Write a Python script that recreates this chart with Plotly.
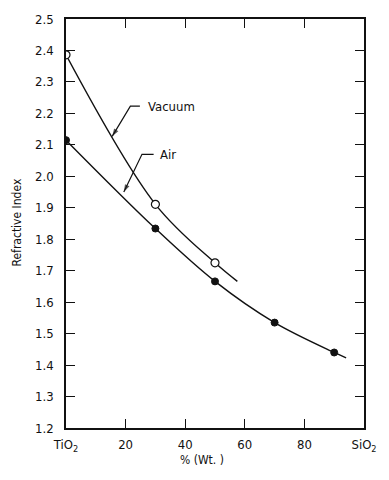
import plotly.graph_objects as go

# Composition (% by weight of SiO2; 0 = pure TiO2, 100 = pure SiO2)
vacuum_x = [0, 30, 50]
vacuum_n = [2.386, 1.911, 1.725]
air_x = [0, 30, 50, 70, 90]
air_n = [2.115, 1.834, 1.666, 1.535, 1.440]

# Smooth fitted curves drawn through the measurements (with their end points)
vacuum_curve_x = [0, 30, 50, 57.5]
vacuum_curve_n = [2.386, 1.911, 1.725, 1.666]
air_curve_x = [0, 30, 50, 70, 90, 94]
air_curve_n = [2.115, 1.834, 1.666, 1.535, 1.440, 1.423]

x_ticks = [0, 20, 40, 60, 80, 100]
x_tick_text = ["TiO<sub>2</sub>", "20", "40", "60", "80", "SiO<sub>2</sub>"]

FONT = "DejaVu Sans Condensed, DejaVu Sans, sans-serif"
INK = "#111111"

fig = go.Figure()

fig.add_trace(go.Scatter(x=vacuum_curve_x, y=vacuum_curve_n, mode="lines",
                         line=dict(color=INK, width=1.4, shape="spline", smoothing=1.0),
                         hoverinfo="skip", showlegend=False))
fig.add_trace(go.Scatter(x=air_curve_x, y=air_curve_n, mode="lines",
                         line=dict(color=INK, width=1.4, shape="spline", smoothing=1.0),
                         hoverinfo="skip", showlegend=False))
fig.add_trace(go.Scatter(x=vacuum_x, y=vacuum_n, mode="markers", name="Vacuum",
                         marker=dict(symbol="circle", size=8, color="white",
                                     line=dict(color=INK, width=1.2)),
                         showlegend=False))
fig.add_trace(go.Scatter(x=air_x, y=air_n, mode="markers", name="Air",
                         marker=dict(symbol="circle", size=7, color=INK,
                                     line=dict(color=INK, width=1)),
                         showlegend=False))

# Bent leader lines with arrowheads pointing at each curve
leaders = [
    ([24.8, 21.6, 15.5], [2.223, 2.223, 2.127]),
    ([29.4, 25.5, 19.4], [2.070, 2.070, 1.950]),
]
for lx, ly in leaders:
    fig.add_trace(go.Scatter(x=lx, y=ly, mode="lines+markers",
                             line=dict(color=INK, width=1.2),
                             marker=dict(symbol="arrow", size=[0, 0, 8], color=INK,
                                         angleref="previous", line=dict(width=0)),
                             hoverinfo="skip", showlegend=False))

fig.add_annotation(x=26.8, y=2.223, xref="x", yref="y", text="Vacuum",
                   showarrow=False, xanchor="left", yanchor="middle",
                   font=dict(family=FONT, size=13, color=INK))
fig.add_annotation(x=31.0, y=2.070, xref="x", yref="y", text="Air",
                   showarrow=False, xanchor="left", yanchor="middle",
                   font=dict(family=FONT, size=13, color=INK))

# Axis titles
fig.add_annotation(x=0.455, y=-0.078, xref="paper", yref="paper", text="% (Wt. )",
                   showarrow=False, xanchor="center", yanchor="middle",
                   font=dict(family=FONT, size=12, color=INK))
fig.add_annotation(x=-0.165, y=0.502, xref="paper", yref="paper",
                   text="Refractive Index", textangle=-90,
                   showarrow=False, xanchor="center", yanchor="middle",
                   font=dict(family=FONT, size=12, color=INK))

axis_common = dict(showline=True, linecolor=INK, linewidth=1.6, mirror="ticks",
                   ticks="inside", ticklen=9, tickwidth=1, tickcolor=INK,
                   showgrid=False, zeroline=False,
                   tickfont=dict(family=FONT, size=13, color=INK))

fig.update_xaxes(range=[0, 100], tickvals=x_ticks, ticktext=x_tick_text,
                 ticklabelstandoff=4, **axis_common)
fig.update_yaxes(range=[1.2, 2.5], dtick=0.1, tick0=1.2, tickformat=".1f",
                 ticklabelstandoff=8, **axis_common)

fig.update_layout(width=389, height=480,
                  margin=dict(l=66, r=13, t=18, b=52),
                  paper_bgcolor="white", plot_bgcolor="white",
                  showlegend=False)

fig.write_html("out.html")
